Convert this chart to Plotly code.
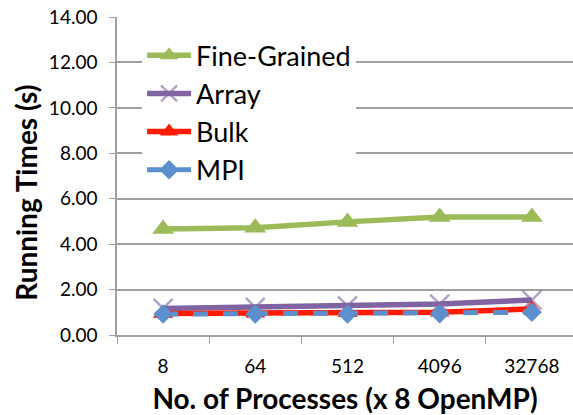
import plotly.graph_objects as go

categories = ["8", "64", "512", "4096", "32768"]
fine_grained = [4.67, 4.72, 4.98, 5.20, 5.20]
array_vals = [1.17, 1.22, 1.28, 1.36, 1.54]
bulk = [0.95, 0.96, 0.98, 1.00, 1.15]
mpi = [0.92, 0.93, 0.93, 0.94, 1.00]
y_ticks = [0, 2, 4, 6, 8, 10, 12, 14]
y_ticktext = ["%.2f" % v for v in y_ticks]

GREEN = "#9BBB59"
PURPLE = "#8064A2"
RED = "#FF1A00"
BLUE = "#5B8FCD"

fig = go.Figure()
fig.add_trace(go.Scatter(
    x=categories, y=fine_grained, name="Fine-Grained", mode="lines+markers",
    line=dict(color=GREEN, width=5.5),
    marker=dict(symbol="triangle-up", size=19, color=GREEN),
    legendgroup="a"))
fig.add_trace(go.Scatter(
    x=categories, y=array_vals, name="Array", mode="lines+markers",
    line=dict(color=PURPLE, width=5.5),
    marker=dict(symbol="x-thin", size=19, color="rgba(128,100,162,0.6)",
                line=dict(color="rgba(128,100,162,0.6)", width=2.5)),
    legendgroup="b"))
fig.add_trace(go.Scatter(
    x=categories, y=bulk, name="Bulk", mode="lines+markers",
    line=dict(color=RED, width=5.5),
    marker=dict(symbol="triangle-up", size=17, color=RED),
    legendgroup="c"))
fig.add_trace(go.Scatter(
    x=categories, y=mpi, name="MPI", mode="lines+markers",
    line=dict(color=BLUE, width=5, dash="dash"),
    marker=dict(symbol="diamond", size=15, color=BLUE),
    legendgroup="d"))

FONT = "Lato, Open Sans, sans-serif"

fig.update_layout(
    width=573, height=415, autosize=False,
    margin=dict(l=117, r=0, t=17, b=80),
    paper_bgcolor="white", plot_bgcolor="white",
    font=dict(family=FONT, color="#000000"),
    showlegend=True,
    legend=dict(
        x=0.055, y=0.955, xanchor="left", yanchor="top",
        bgcolor="white", font=dict(size=27, family=FONT),
        tracegroupgap=0, itemwidth=44,
    ),
    xaxis=dict(
        type="category", range=[-0.5, 4.446], automargin=False,
        showline=True, linecolor="#A0A0A0", linewidth=1.5,
        ticks="outside", tickson="boundaries", ticklen=7, tickcolor="#A0A0A0",
        tickfont=dict(size=19, family=FONT), showgrid=False,
        ticklabelstandoff=13,
        title=dict(text="<b>No. of Processes (x 8 OpenMP)</b>",
                   font=dict(size=28, family=FONT), standoff=20),
        fixedrange=True,
    ),
    yaxis=dict(
        range=[0, 14], tickvals=y_ticks, ticktext=y_ticktext, automargin=False,
        showline=True, linecolor="#A0A0A0", linewidth=1.5,
        ticks="outside", ticklen=6, tickcolor="#A0A0A0",
        showgrid=True, gridcolor="#A0A0A0", gridwidth=1.5,
        zeroline=False,
        tickfont=dict(size=19, family=FONT),
        ticklabelstandoff=8,
        fixedrange=True,
    ),
    annotations=[dict(
        text="<b>Running Times (s)</b>", textangle=-90,
        xref="paper", yref="paper", x=-0.20, y=0.4465,
        xanchor="center", yanchor="middle", showarrow=False,
        font=dict(size=28, family=FONT, color="#000000"),
    )],
)

fig.write_html(
    "out.html",
    config={"responsive": False, "displayModeBar": False},
    post_script="document.body.style.margin='0';document.body.style.overflow='hidden';",
)
